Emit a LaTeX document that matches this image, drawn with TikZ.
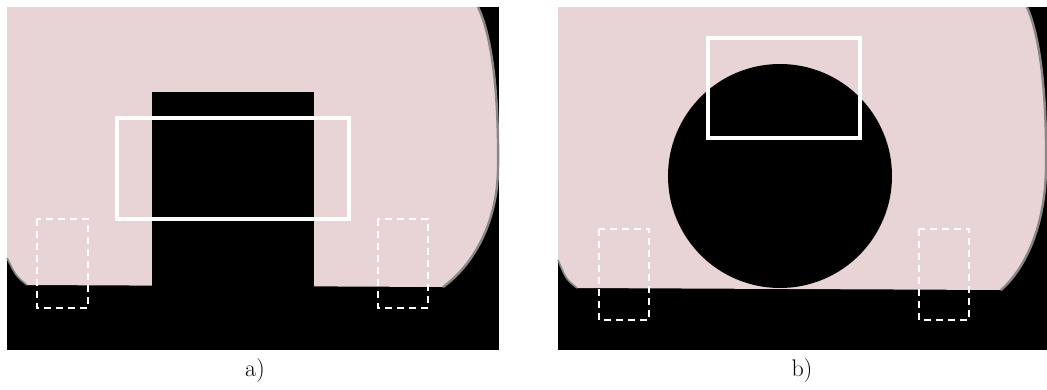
\documentclass[tikz,border=0pt]{standalone}
\usetikzlibrary{calc}
\definecolor{skin}{RGB}{232,212,212}
\definecolor{rim}{RGB}{135,135,135}

\begin{document}
\begin{tikzpicture}[x=1pt,y=-1pt,
  roi/.style={draw=white,line width=3.2pt},
  probe/.style={draw=white,line width=1.8pt,dash pattern=on 7pt off 5pt},
  caption/.style={font=\fontsize{24}{28}\selectfont}]
\useasboundingbox (0,0) rectangle (1047,389);

% panel a
\fill[black] (7,7) rectangle (499,350);
\fill[skin] (7,7) -- (478,7) .. controls (493,38) and (499,100) .. (498,170)
  .. controls (497,225) and (472,266) .. (443,287) -- (27,285)
  .. controls (16,276) .. (7,258) -- cycle;
\draw[rim,line width=2.4pt] (478,7) .. controls (493,38) and (499,100) .. (498,170)
  .. controls (497,225) and (472,266) .. (443,287);
\draw[rim,line width=1.6pt] (27,285) .. controls (16,276) .. (7,258);
\fill[black] (152,92) rectangle (314,287);

\draw[roi] (117,118) rectangle (349,219);
\draw[probe] (37,219) rectangle (88,308);
\draw[probe] (378,219) rectangle (428,308);

\node[caption] (capA) at (255,371) {a)};

% panel b
\fill[black] (558,7) rectangle (1047,350);
\fill[skin] (558,7) -- (1027,7) .. controls (1041,38) and (1047,100) .. (1046,170)
  .. controls (1045,225) and (1026,268) .. (1001,290) -- (577,288)
  .. controls (566,279) .. (558,260) -- cycle;
\draw[rim,line width=2.4pt] (1027,7) .. controls (1041,38) and (1047,100) .. (1046,170)
  .. controls (1045,225) and (1026,268) .. (1001,290);
\draw[rim,line width=1.6pt] (577,288) .. controls (566,279) .. (558,260);
\fill[black] (780,176) circle (112);

\draw[roi] (708,38) rectangle (860,138);
\draw[probe] (599,229) rectangle (649,320);
\draw[probe] (919,229) rectangle (969,320);

\node[caption] (capB) at (802,371) {b)};

\end{tikzpicture}
\end{document}
